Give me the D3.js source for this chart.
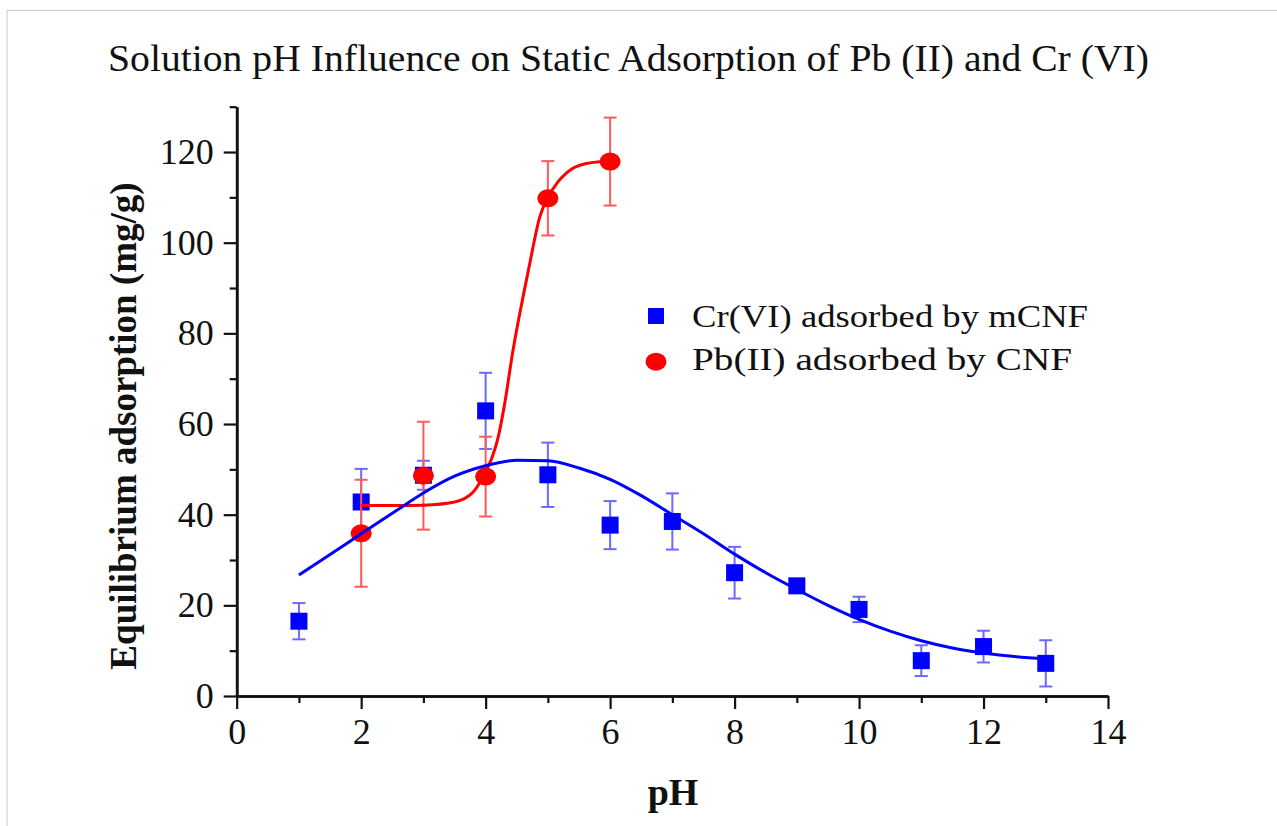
<!DOCTYPE html>
<html lang="en">
<head>
	<meta charset="UTF-8">
	<title>Solution pH Influence</title>
	<script src="https://d3js.org/d3.v7.min.js"></script>
	<style>
		body {margin: 0; background: #fff;}
		text {font-family: "Liberation Serif", "Times New Roman", serif; fill: #111;}
	</style>
</head>
<body>
	<div id="myDiv"></div>

<script>
	// Cr(VI) adsorbed by mCNF (blue squares)
	let crPH = [1, 2, 3, 4, 5, 6, 7, 8, 9, 10, 11, 12, 13];
	let crValues = [16.5, 42.8, 48.7, 62.9, 48.8, 37.7, 38.5, 27.2, 24.3, 19.1, 7.8, 10.9, 7.2];
	let crErrors = [4.0, 7.3, 3.2, 8.4, 7.1, 5.3, 6.2, 5.7, 1.3, 2.8, 3.4, 3.5, 5.1];

	// Pb(II) adsorbed by CNF (red circles)
	let pbPH = [2, 3, 4, 5, 6];
	let pbValues = [35.9, 48.6, 48.4, 109.8, 117.9];
	let pbErrors = [11.8, 11.9, 8.8, 8.2, 9.7];

	// fitted curves
	let crFitPH = [1, 1.5, 2, 2.5, 3, 3.5, 4, 4.5, 5, 5.5, 6, 6.5, 7, 7.5, 8, 8.5, 9, 9.5, 10, 10.5, 11, 11.5, 12, 12.5, 13];
	let crFitValues = [26.7, 31.2, 35.8, 40.3, 44.8, 48.5, 50.8, 52.0, 51.9, 50.3, 47.8, 44.2, 40.0, 35.8, 31.3, 27.2, 23.5, 20.0, 16.9, 14.3, 12.2, 10.6, 9.5, 8.7, 8.2];
	let pbFitPH = [2, 2.5, 3, 3.5, 3.8, 4, 4.1, 4.2, 4.3, 4.44, 4.6, 4.71, 4.87, 5, 5.15, 5.3, 5.6, 6];
	let pbFitValues = [42, 42, 42.1, 42.8, 45, 49.5, 52.5, 57, 64, 76.3, 88, 95.5, 105.7, 110, 113.2, 115.4, 117.4, 118];

	// axis ticks
	let xMajor = [0, 2, 4, 6, 8, 10, 12, 14];
	let xMinor = [1, 3, 5, 7, 9, 11, 13];
	let yMajor = [0, 20, 40, 60, 80, 100, 120];
	let yMinor = [10, 30, 50, 70, 90, 110, 130];

	let legendLabels = ["Cr(VI) adsorbed by mCNF", "Pb(II) adsorbed by CNF"];

	let svg = d3.select("#myDiv").append("svg")
		.attr("width", 1277)
		.attr("height", 826);

	// light frame lines at top and left
	svg.append("line").attr("x1", 7).attr("y1", 10.5).attr("x2", 1277).attr("y2", 10.5)
		.attr("stroke", "#c8c8c8").attr("stroke-width", 1);
	svg.append("line").attr("x1", 7).attr("y1", 10.5).attr("x2", 7).attr("y2", 826)
		.attr("stroke", "#c8c8c8").attr("stroke-width", 1);

	let x = d3.scaleLinear().domain([0, 14]).range([236.7, 1108]);
	let y = d3.scaleLinear().domain([0, 130]).range([696, 106.7]);

	//---------------- axes
	let xAxisG = svg.append("g").attr("transform", "translate(0,696)");
	xAxisG.append("g").call(d3.axisBottom(x).tickValues(xMinor).tickSize(7).tickFormat("").tickSizeOuter(0));
	xAxisG.append("g").call(d3.axisBottom(x).tickValues(xMajor).tickSize(13).tickPadding(9).tickSizeOuter(0));

	let yAxisG = svg.append("g").attr("transform", "translate(236.7,0)");
	yAxisG.append("g").call(d3.axisLeft(y).tickValues(yMinor).tickSize(7).tickFormat("").tickSizeOuter(0));
	yAxisG.append("g").call(d3.axisLeft(y).tickValues(yMajor).tickSize(13).tickPadding(10).tickSizeOuter(0));

	svg.selectAll(".domain").attr("stroke", "#111").attr("stroke-width", 2.6);
	svg.selectAll(".tick line").attr("stroke", "#111").attr("stroke-width", 2.2);
	svg.selectAll(".tick text")
		.attr("font-family", "Liberation Serif")
		.attr("font-size", "36px")
		.attr("fill", "#111");

	//---------------- error bars + markers
	function drawErrors(px, vals, errs, color) {
		let g = svg.append("g").attr("stroke", color).attr("stroke-width", 2).attr("fill", "none");
		px.forEach(function(p, i) {
			let cx = x(p), top = y(vals[i] + errs[i]), bot = y(vals[i] - errs[i]);
			g.append("line").attr("x1", cx).attr("x2", cx).attr("y1", top).attr("y2", bot);
			g.append("line").attr("x1", cx - 6.5).attr("x2", cx + 6.5).attr("y1", top).attr("y2", top);
			g.append("line").attr("x1", cx - 6.5).attr("x2", cx + 6.5).attr("y1", bot).attr("y2", bot);
		});
	}

	drawErrors(crPH, crValues, crErrors, "#6a6aff");
	svg.append("g").selectAll("rect")
		.data(crPH)
		.enter()
		.append("rect")
			.attr("x", function(d){ return x(d) - 8.5; })
			.attr("y", function(d, i){ return y(crValues[i]) - 8.5; })
			.attr("width", 17)
			.attr("height", 17)
			.attr("fill", "#0000ff");

	drawErrors(pbPH, pbValues, pbErrors, "#ff5a5a");
	svg.append("g").selectAll("ellipse")
		.data(pbPH)
		.enter()
		.append("ellipse")
			.attr("cx", function(d){ return x(d); })
			.attr("cy", function(d, i){ return y(pbValues[i]); })
			.attr("rx", 10.5)
			.attr("ry", 9)
			.attr("fill", "#ff0000");

	//---------------- fit lines
	let line = d3.line()
		.x(function(d){ return x(d[0]); })
		.y(function(d){ return y(d[1]); })
		.curve(d3.curveMonotoneX);

	svg.append("path")
		.attr("d", line(d3.zip(pbFitPH, pbFitValues)))
		.attr("fill", "none").attr("stroke", "#ff0000").attr("stroke-width", 3);
	svg.append("path")
		.attr("d", line(d3.zip(crFitPH, crFitValues)))
		.attr("fill", "none").attr("stroke", "#0000ff").attr("stroke-width", 3);

	//---------------- legend
	svg.append("rect").attr("x", 648).attr("y", 308).attr("width", 16).attr("height", 16).attr("fill", "#0000ff");
	svg.append("ellipse").attr("cx", 656).attr("cy", 361.7).attr("rx", 10.5).attr("ry", 9).attr("fill", "#ff0000");
	svg.append("text").attr("x", 692).attr("y", 326.7)
		.attr("font-size", "32px")
		.attr("textLength", 396).attr("lengthAdjust", "spacingAndGlyphs")
		.text(legendLabels[0]);
	svg.append("text").attr("x", 692).attr("y", 370)
		.attr("font-size", "32px")
		.attr("textLength", 380).attr("lengthAdjust", "spacingAndGlyphs")
		.text(legendLabels[1]);

	//---------------- titles
	svg.append("text")
		.attr("x", 108).attr("y", 70.5)
		.attr("font-size", "38px")
		.attr("textLength", 1041).attr("lengthAdjust", "spacingAndGlyphs")
		.text("Solution pH Influence on Static Adsorption of Pb (II) and Cr (VI)");

	svg.append("text")
		.attr("x", 673).attr("y", 805)
		.attr("text-anchor", "middle")
		.attr("font-size", "38px")
		.attr("font-weight", "bold")
		.text("pH");

	svg.append("text")
		.attr("transform", "translate(136,426) rotate(-90)")
		.attr("text-anchor", "middle")
		.attr("font-size", "37px")
		.attr("font-weight", "bold")
		.text("Equilibrium adsorption (mg/g)");
</script>
</body>
</html>
